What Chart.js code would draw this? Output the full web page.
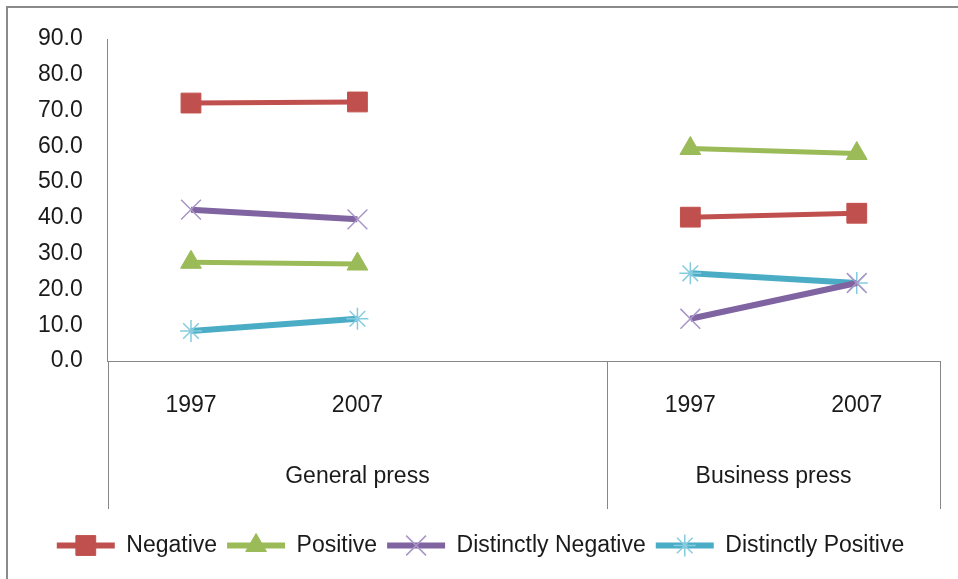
<!DOCTYPE html>
<html>
<head>
<meta charset="utf-8">
<script src="https://cdn.jsdelivr.net/npm/chart.js@4.4.0/dist/chart.umd.min.js"></script>
<style>
    html, body { margin: 0; padding: 0; background: #fff; }
    #wrap { position: relative; width: 958px; height: 579px; }
</style>
</head>
<body>
<div id="wrap"><canvas id="chart" width="958" height="579"></canvas></div>
<script>
// categories: two groups, blank slot between them
const yearLabels = ['1997', '2007', '', '1997', '2007'];
const groupNames = ['General press', 'Business press'];
const groupStart = [0, 3];
const groupEnd = [2, 4];

const negative = [72.1, 72.4, null, 40.2, 41.3];
const positive = [27.6, 27.1, null, 59.4, 58.0];
const distNegative = [42.3, 39.6, null, 11.8, 21.8];
const distPositive = [8.4, 11.8, null, 24.5, 21.8];

const seriesNames = ['Negative', 'Positive', 'Distinctly Negative', 'Distinctly Positive'];
const yTicks = [0, 10, 20, 30, 40, 50, 60, 70, 80, 90];

const axisGray = '#878787';
const textColor = '#1a1a1a';
const fontFamily = '"Liberation Sans", Arial, sans-serif';

// frame, group dividers and group labels under the x axis
const groupAxisPlugin = {
    id: 'groupAxis',
    beforeDraw(chart) {
        const ctx = chart.ctx;
        ctx.save();
        ctx.strokeStyle = '#8a8a8a';
        ctx.lineWidth = 2;
        ctx.beginPath();
        ctx.moveTo(7, chart.height);
        ctx.lineTo(7, 7);
        ctx.lineTo(chart.width, 7);
        ctx.stroke();
        ctx.restore();
    },
    afterDraw(chart) {
        const ctx = chart.ctx;
        const x = chart.scales.x;
        const half = (x.getPixelForValue(1) - x.getPixelForValue(0)) / 2;
        const top = x.top;
        const bottom = x.top + 148;
        ctx.save();
        ctx.strokeStyle = axisGray;
        ctx.lineWidth = 1;
        const edges = [groupStart[0], groupStart[1], groupEnd[1] + 1];
        edges.forEach(i => {
            const px = Math.round(x.getPixelForValue(i) - half) + 0.5;
            ctx.beginPath();
            ctx.moveTo(px, top);
            ctx.lineTo(px, bottom);
            ctx.stroke();
        });
        ctx.fillStyle = textColor;
        ctx.font = '23px ' + fontFamily;
        ctx.textAlign = 'center';
        ctx.textBaseline = 'middle';
        groupNames.forEach((name, g) => {
            const l = x.getPixelForValue(groupStart[g]) - half;
            const r = x.getPixelForValue(groupEnd[g]) + half;
            ctx.fillText(name, (l + r) / 2, top + 116);
        });
        ctx.restore();
    }
};

// draw the marker in the middle of each legend line
const legendMarkerPlugin = {
    id: 'legendMarkers',
    afterDraw(chart) {
        const legend = chart.legend;
        if (!legend || !legend.legendHitBoxes) return;
        const ctx = chart.ctx;
        const opts = legend.options.labels;
        legend.legendHitBoxes.forEach((box, i) => {
            const ds = chart.data.datasets[i];
            const cx = box.left + opts.boxWidth / 2;
            const cy = box.top + opts.font.size / 2;
            ctx.save();
            ctx.fillStyle = ds.pointBackgroundColor;
            ctx.strokeStyle = ds.pointBorderColor;
            ctx.lineWidth = ds.pointBorderWidth;
            Chart.helpers.drawPoint(ctx, {
                pointStyle: ds.pointStyle,
                radius: ds.pointRadius,
                rotation: 0,
                borderWidth: ds.pointBorderWidth
            }, cx, cy);
            ctx.restore();
        });
    }
};

const ctx = document.getElementById('chart').getContext('2d');
new Chart(ctx, {
    type: 'line',
    data: {
        labels: yearLabels,
        datasets: [{
            label: seriesNames[0],
            data: negative,
            borderColor: '#C0504D',
            backgroundColor: '#C0504D',
            borderWidth: 5,
            pointStyle: 'rect',
            pointRadius: 14,
            pointBackgroundColor: '#C0504D',
            pointBorderColor: '#C0504D',
            pointBorderWidth: 1
        }, {
            label: seriesNames[1],
            data: positive,
            borderColor: '#9BBB59',
            backgroundColor: '#9BBB59',
            borderWidth: 5,
            pointStyle: 'triangle',
            pointRadius: 12,
            pointBackgroundColor: '#9BBB59',
            pointBorderColor: '#9BBB59',
            pointBorderWidth: 1
        }, {
            label: seriesNames[2],
            data: distNegative,
            borderColor: '#8064A2',
            backgroundColor: '#8064A2',
            borderWidth: 6,
            pointStyle: 'crossRot',
            pointRadius: 14,
            pointBackgroundColor: '#8064A2',
            pointBorderColor: '#A995C6',
            pointBorderWidth: 1.5
        }, {
            label: seriesNames[3],
            data: distPositive,
            borderColor: '#4BACC6',
            backgroundColor: '#4BACC6',
            borderWidth: 6,
            pointStyle: 'star',
            pointRadius: 11,
            pointBackgroundColor: '#4BACC6',
            pointBorderColor: '#86CCDF',
            pointBorderWidth: 1.5
        }]
    },
    options: {
        responsive: false,
        animation: false,
        spanGaps: false,
        layout: {
            padding: { left: 21, right: 18, top: 39, bottom: 12 }
        },
        plugins: {
            legend: {
                position: 'bottom',
                labels: {
                    color: textColor,
                    font: { family: fontFamily, size: 23 },
                    boxWidth: 58,
                    boxHeight: 6,
                    padding: 10,
                    generateLabels(chart) {
                        return chart.data.datasets.map((ds, i) => ({
                            text: ds.label,
                            fillStyle: ds.borderColor,
                            strokeStyle: ds.borderColor,
                            lineWidth: 0,
                            fontColor: textColor,
                            hidden: false,
                            datasetIndex: i
                        }));
                    }
                }
            },
            tooltip: { enabled: false }
        },
        scales: {
            x: {
                offset: true,
                grid: { display: false },
                border: { display: true, color: axisGray, width: 1 },
                ticks: {
                    color: textColor,
                    font: { family: fontFamily, size: 23 },
                    padding: 23,
                    maxRotation: 0,
                    autoSkip: false
                },
                afterFit(scale) {
                    scale.height = 163;
                }
            },
            y: {
                min: 0,
                max: 90,
                grid: { display: false },
                border: { display: true, color: axisGray, width: 1 },
                afterBuildTicks(scale) {
                    scale.ticks = yTicks.map(v => ({ value: v }));
                },
                ticks: {
                    color: textColor,
                    font: { family: fontFamily, size: 23 },
                    padding: 17,
                    callback: v => Number(v).toFixed(1)
                }
            }
        }
    },
    plugins: [groupAxisPlugin, legendMarkerPlugin]
});
</script>
</body>
</html>
